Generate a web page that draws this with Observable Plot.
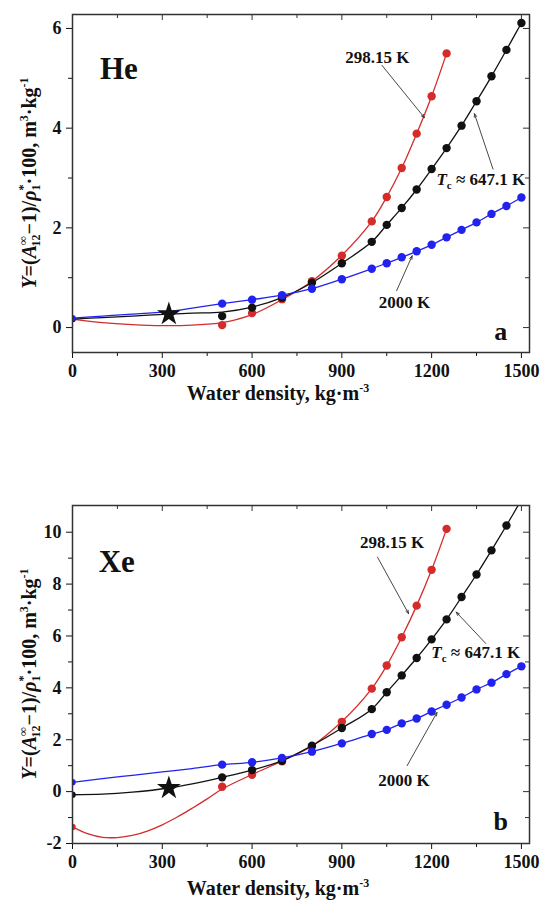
<!DOCTYPE html>
<html>
<head>
<meta charset="utf-8">
<script src="https://cdn.jsdelivr.net/npm/d3@7"></script>
<script src="https://cdn.jsdelivr.net/npm/@observablehq/plot@0.6"></script>
<style>
  html, body { margin: 0; padding: 0; background: #fff; }
  #chart { width: 543px; }
  #chart svg { display: block; }
</style>
</head>
<body>
<div id="chart"></div>
<script>
// ---------- shared axis data ----------
const xDomain = [0, 1527];
const xMajor = [0, 300, 600, 900, 1200, 1500];
const xMinor = [150, 450, 750, 1050, 1350];
const starX = [322];

// ---------- He (panel a) ----------
const heRedX = [500, 600, 700, 800, 900, 1000, 1050, 1100, 1150, 1200, 1250];
const heRedY = [0.05, 0.29, 0.57, 0.93, 1.44, 2.13, 2.62, 3.20, 3.89, 4.64, 5.50];
const heRedCurveX = [0, 100, 200, 300, 400, 500, 600, 700, 800, 900, 1000, 1050, 1100, 1150, 1200, 1250];
const heRedCurveY = [0.17, 0.10, 0.06, 0.04, 0.05, 0.10, 0.26, 0.56, 0.93, 1.45, 2.13, 2.62, 3.20, 3.89, 4.64, 5.50];

const heBlackX = [500, 600, 700, 800, 900, 1000, 1050, 1100, 1150, 1200, 1250, 1300, 1350, 1400, 1450, 1500];
const heBlackY = [0.23, 0.40, 0.60, 0.90, 1.29, 1.72, 2.06, 2.40, 2.77, 3.18, 3.60, 4.05, 4.54, 5.04, 5.57, 6.11];
const heBlackCurveX = [0, 100, 200, 322, 400, 500, 600, 700, 800, 900, 1000, 1050, 1100, 1150, 1200, 1250, 1300, 1350, 1400, 1450, 1500];
const heBlackCurveY = [0.17, 0.20, 0.23, 0.27, 0.29, 0.31, 0.41, 0.60, 0.90, 1.29, 1.72, 2.06, 2.40, 2.77, 3.18, 3.60, 4.05, 4.54, 5.04, 5.57, 6.11];

const heBlueX = [500, 600, 700, 800, 900, 1000, 1050, 1100, 1150, 1200, 1250, 1300, 1350, 1400, 1450, 1500];
const heBlueY = [0.48, 0.56, 0.65, 0.78, 0.97, 1.18, 1.29, 1.41, 1.53, 1.66, 1.81, 1.96, 2.11, 2.28, 2.44, 2.61];
const heBlueCurveX = [0, 100, 200, 322, 400, 500, 600, 700, 800, 900, 1000, 1050, 1100, 1150, 1200, 1250, 1300, 1350, 1400, 1450, 1500];
const heBlueCurveY = [0.19, 0.23, 0.27, 0.32, 0.39, 0.48, 0.56, 0.65, 0.78, 0.97, 1.18, 1.29, 1.41, 1.53, 1.66, 1.81, 1.96, 2.11, 2.28, 2.44, 2.61];
const heStarY = [0.27];
const heEndY = [0.17, 0.17, 0.19]; // red, black, blue at density 0

// ---------- Xe (panel b) ----------
const xeRedX = [500, 600, 700, 800, 900, 1000, 1050, 1100, 1150, 1200, 1250];
const xeRedY = [0.19, 0.65, 1.17, 1.74, 2.69, 3.97, 4.86, 5.95, 7.17, 8.55, 10.13];
const xeRedCurveX = [0, 50, 100, 150, 200, 250, 300, 350, 400, 450, 500, 600, 700, 800, 900, 1000, 1050, 1100, 1150, 1200, 1250];
const xeRedCurveY = [-1.36, -1.62, -1.76, -1.77, -1.69, -1.52, -1.28, -0.98, -0.64, -0.28, 0.10, 0.66, 1.18, 1.76, 2.70, 3.97, 4.86, 5.95, 7.17, 8.55, 10.13];

const xeBlackX = [500, 600, 700, 800, 900, 1000, 1050, 1100, 1150, 1200, 1250, 1300, 1350, 1400, 1450];
const xeBlackY = [0.55, 0.83, 1.19, 1.77, 2.45, 3.18, 3.83, 4.48, 5.15, 5.87, 6.64, 7.50, 8.37, 9.30, 10.26];
const xeBlackCurveX = [0, 100, 200, 322, 400, 500, 600, 700, 800, 900, 1000, 1050, 1100, 1150, 1200, 1250, 1300, 1350, 1400, 1450, 1500];
const xeBlackCurveY = [-0.12, -0.10, -0.02, 0.14, 0.30, 0.55, 0.83, 1.19, 1.77, 2.45, 3.18, 3.83, 4.48, 5.15, 5.87, 6.64, 7.50, 8.37, 9.30, 10.26, 11.25];

const xeBlueX = [500, 600, 700, 800, 900, 1000, 1050, 1100, 1150, 1200, 1250, 1300, 1350, 1400, 1450, 1500];
const xeBlueY = [1.04, 1.13, 1.30, 1.54, 1.86, 2.22, 2.38, 2.63, 2.82, 3.09, 3.35, 3.63, 3.94, 4.20, 4.53, 4.83];
const xeBlueCurveX = [0, 100, 200, 300, 400, 500, 600, 700, 800, 900, 1000, 1050, 1100, 1150, 1200, 1250, 1300, 1350, 1400, 1450, 1500];
const xeBlueCurveY = [0.36, 0.50, 0.63, 0.76, 0.89, 1.04, 1.13, 1.30, 1.54, 1.86, 2.22, 2.38, 2.63, 2.82, 3.09, 3.35, 3.63, 3.94, 4.20, 4.53, 4.83];
const xeStarY = [0.14];
const xeEndY = [-1.36, -0.12, 0.36];

// ---------- annotation anchors (data coordinates) ----------
const heNotes = {
  name: ["He", 155, 5.19], tag: ["a", 1431, -0.09],
  t298: [1019, 5.42], a298: [1034, 5.26, 1176, 4.21],
  tTc: [1366, 2.95], aTc: [1405, 3.18, 1343, 4.29],
  t2000: [1109, 0.50], a2000: [1083, 0.74, 1135, 1.44]
};
const xeNotes = {
  name: ["Xe", 148, 8.85], tag: ["b", 1431, -1.17],
  t298: [1068, 9.62], a298: [1019, 9.04, 1123, 6.86],
  tTc: [1349, 5.35], aTc: [1381, 5.71, 1282, 6.92],
  t2000: [1108, 0.42], a2000: [1118, 1.00, 1218, 3.05]
};

const RED = "#d42b2b", BLACK = "#111111", BLUE = "#2222ee";
const FONT = "'Liberation Serif', 'Times New Roman', serif";
const W = 543, ML = 72, MR = 14;

const zip = (xs, ys) => xs.map((x, i) => ({x, y: ys[i]}));

function panel(cfg) {
  const plotH = cfg.height - cfg.marginTop - cfg.marginBottom;
  const plotW = W - ML - MR;
  const series = [
    {curve: zip(cfg.redCX, cfg.redCY), pts: zip(cfg.redX, cfg.redY), c: RED},
    {curve: zip(cfg.blkCX, cfg.blkCY), pts: zip(cfg.blkX, cfg.blkY), c: BLACK},
    {curve: zip(cfg.bluCX, cfg.bluCY), pts: zip(cfg.bluX, cfg.bluY), c: BLUE}
  ];
  const ends = [RED, BLACK, BLUE].map((c, i) => ({x: 0, y: cfg.endY[i], c}));
  const n = cfg.notes;
  const arrows = [n.a298, n.aTc, n.a2000].map(a => ({x1: a[0], y1: a[1], x2: a[2], y2: a[3]}));
  const marks = [
    Plot.axisX({anchor: "bottom", ticks: xMajor, tickSize: 6, tickPadding: 6, label: null, fontSize: 18, fontWeight: "bold", tickFormat: d => String(d)}),
    Plot.axisX({anchor: "bottom", ticks: xMinor, tickSize: 4, tickFormat: () => "", label: null}),
    Plot.axisY({anchor: "left", ticks: cfg.yMajor, tickSize: 6, tickPadding: 5, label: null, fontSize: 18, fontWeight: "bold", tickFormat: d => String(d)}),
    Plot.axisY({anchor: "left", ticks: cfg.yMinor, tickSize: 4, tickFormat: () => "", label: null}),
    Plot.tickX(xMajor, {x: d => d, insetBottom: plotH - 6, stroke: "#333", strokeWidth: 1}),
    Plot.tickX(xMinor, {x: d => d, insetBottom: plotH - 4, stroke: "#333", strokeWidth: 1}),
    Plot.tickY(cfg.yMajor, {y: d => d, insetLeft: plotW - 6, stroke: "#333", strokeWidth: 1}),
    Plot.tickY(cfg.yMinor, {y: d => d, insetLeft: plotW - 4, stroke: "#333", strokeWidth: 1}),
    ...series.map(s => Plot.line(s.curve, {x: "x", y: "y", stroke: s.c, strokeWidth: 1.3, curve: "catmull-rom", clip: true})),
    Plot.dot(ends, {x: "x", y: "y", fill: "c", r: 3.2, clip: true}),
    ...series.map(s => Plot.dot(s.pts, {x: "x", y: "y", fill: s.c, r: 4.2})),
    Plot.dot(starX.map((x, i) => ({x, y: cfg.starY[i]})), {x: "x", y: "y", symbol: "star", fill: "#111", r: 7.5}),
    Plot.arrow(arrows, {x1: "x1", y1: "y1", x2: "x2", y2: "y2", stroke: "#333", strokeWidth: 0.9, headLength: 6, headAngle: 40}),
    Plot.text([n.t298], {x: d => d[0], y: d => d[1], text: () => "298.15 K", fontSize: 17, fontWeight: "bold", fill: "#111"}),
    Plot.text([n.t2000], {x: d => d[0], y: d => d[1], text: () => "2000 K", fontSize: 17, fontWeight: "bold", fill: "#111"}),
    Plot.text([n.name], {x: d => d[1], y: d => d[2], text: d => d[0], fontSize: 31, fontWeight: "bold", fill: "#111"}),
    Plot.text([n.tag], {x: d => d[1], y: d => d[2], text: d => d[0], fontSize: 26, fontWeight: "bold", fill: "#111"}),
    Plot.frame({stroke: "#333", strokeWidth: 1.5})
  ];
  const plot = Plot.plot({
    width: W, height: cfg.height,
    marginLeft: ML, marginRight: MR, marginTop: cfg.marginTop, marginBottom: cfg.marginBottom,
    x: {domain: xDomain},
    y: {domain: cfg.yDomain},
    style: {fontFamily: FONT, fontWeight: "bold", fontSize: "18px", color: "#111", background: "#fff", overflow: "visible"},
    marks
  });
  const svg = d3.select(plot);
  const sx = v => plot.scale("x").apply(v), sy = v => plot.scale("y").apply(v);

  // Tc label with italic T and subscript c
  const tc = svg.append("text")
    .attr("x", sx(n.tTc[0])).attr("y", sy(n.tTc[1])).attr("dy", "0.32em")
    .attr("text-anchor", "middle")
    .style("font-family", FONT).style("font-weight", "bold").style("font-size", "17px").attr("fill", "#111");
  tc.append("tspan").attr("font-style", "italic").text("T");
  tc.append("tspan").attr("font-size", "11px").attr("dy", 4).text("c");
  tc.append("tspan").attr("dy", -4).text(" \u2248 647.1 K");

  // x axis title
  const xt = svg.append("text")
    .attr("x", 278).attr("y", cfg.height - cfg.marginBottom + cfg.titleGap)
    .attr("text-anchor", "middle")
    .style("font-family", FONT).style("font-weight", "bold").style("font-size", "20px").attr("fill", "#111");
  xt.append("tspan").text("Water density, kg\u00b7m");
  xt.append("tspan").attr("font-size", "12px").attr("dy", -8).text("-3");

  // y axis title
  const cy = cfg.marginTop + plotH / 2;
  const yt = svg.append("text")
    .attr("transform", `translate(36,${cy}) rotate(-90)`)
    .attr("text-anchor", "middle")
    .style("font-family", FONT).style("font-weight", "bold").style("font-size", "20px").attr("fill", "#111");
  yt.append("tspan").attr("font-style", "italic").text("Y");
  yt.append("tspan").text("=(");
  yt.append("tspan").attr("font-style", "italic").text("A");
  yt.append("tspan").attr("font-size", "12px").attr("dy", -9).text("\u221e");
  yt.append("tspan").attr("font-size", "12px").attr("dx", -10).attr("dy", 13).text("12");
  yt.append("tspan").attr("dy", -4).text("\u22121)/");
  yt.append("tspan").attr("font-style", "italic").text("\u03c1");
  yt.append("tspan").attr("font-size", "12px").attr("dy", -9).text("*");
  yt.append("tspan").attr("font-size", "12px").attr("dx", -6).attr("dy", 13).text("1");
  yt.append("tspan").attr("dy", -4).text("\u00b7100, m");
  yt.append("tspan").attr("font-size", "12px").attr("dy", -8).text("3");
  yt.append("tspan").attr("dy", 8).text("\u00b7kg");
  yt.append("tspan").attr("font-size", "12px").attr("dy", -8).text("-1");
  return plot;
}

const chart = document.getElementById("chart");
chart.appendChild(panel({
  height: 430, marginTop: 14, marginBottom: 78, titleGap: 48,
  yDomain: [-0.5, 6.28], yMajor: [0, 2, 4, 6], yMinor: [1, 3, 5],
  redX: heRedX, redY: heRedY, redCX: heRedCurveX, redCY: heRedCurveY,
  blkX: heBlackX, blkY: heBlackY, blkCX: heBlackCurveX, blkCY: heBlackCurveY,
  bluX: heBlueX, bluY: heBlueY, bluCX: heBlueCurveX, bluCY: heBlueCurveY,
  starY: heStarY, endY: heEndY, notes: heNotes
}));
chart.appendChild(panel({
  height: 473, marginTop: 75, marginBottom: 60, titleGap: 52,
  yDomain: [-2, 11.03], yMajor: [-2, 0, 2, 4, 6, 8, 10], yMinor: [-1, 1, 3, 5, 7, 9],
  redX: xeRedX, redY: xeRedY, redCX: xeRedCurveX, redCY: xeRedCurveY,
  blkX: xeBlackX, blkY: xeBlackY, blkCX: xeBlackCurveX, blkCY: xeBlackCurveY,
  bluX: xeBlueX, bluY: xeBlueY, bluCX: xeBlueCurveX, bluCY: xeBlueCurveY,
  starY: xeStarY, endY: xeEndY, notes: xeNotes
}));
</script>
</body>
</html>
